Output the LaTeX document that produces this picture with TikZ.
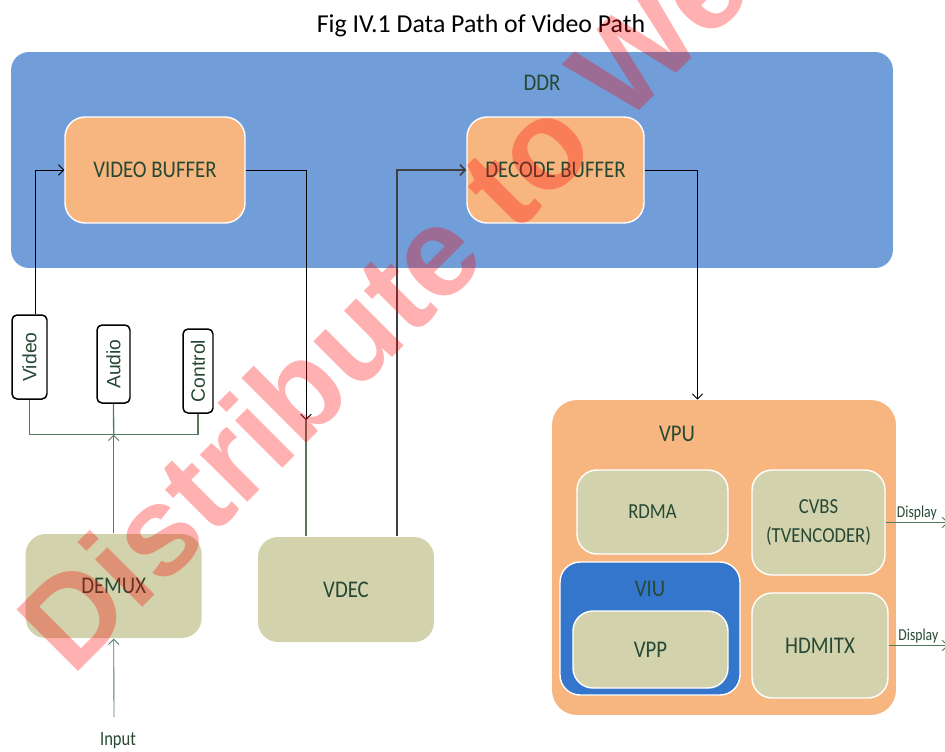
\documentclass[tikz,border=0pt]{standalone}
\usepackage{graphicx}
\usepackage{fontspec}
\setmainfont{Carlito}
\newfontfamily\boxfont{Carlito}[FakeStretch=0.87]
\newfontfamily\smallfont{Carlito}[FakeStretch=0.82]
\newfontfamily\tagfont{Liberation Sans}
\usetikzlibrary{arrows.meta}

\definecolor{ddrblue}{RGB}{113,157,216}
\definecolor{bufor}{RGB}{247,182,127}
\definecolor{unitolive}{RGB}{210,211,172}
\definecolor{viublue}{RGB}{52,118,203}
\definecolor{txtgreen}{RGB}{38,72,52}
\definecolor{busgreen}{RGB}{84,122,94}

\begin{document}
\begin{tikzpicture}[x=0.02cm, y=-0.02cm,
   area/.style = {shape = rectangle, rounded corners = 0.36cm, inner sep = 0pt},
   buffer/.style = {shape = rectangle, rounded corners = 0.4cm, draw = white, line width = 0.8pt,
                    fill = bufor, text = txtgreen, font = \boxfont\fontsize{13.6}{16}\selectfont},
   unit/.style = {buffer, fill = unitolive},
   tag/.style = {shape = rectangle, rounded corners = 0.1cm, draw = black, line width = 0.85pt,
                 fill = white, inner sep = 0pt, text = txtgreen, font = \tagfont\fontsize{11}{13}\selectfont},
   title/.style = {text = txtgreen, font = \boxfont\fontsize{13.6}{16}\selectfont},
   link/.style = {line width = 0.5pt, -{Straight Barb[length=3pt, width=6pt]}},
   bus/.style = {line width = 0.75pt, draw = busgreen}]

   \useasboundingbox (0,0) rectangle (945,751);
   \clip (0,0) rectangle (945,751);

   \node(fig) at (481,32) [anchor = base, font = \fontsize{14.7}{17}\selectfont] {Fig IV.1 Data Path of Video Path};

   \node(ddr) at (452,160) [area, fill = ddrblue, minimum width = 17.64cm, minimum height = 4.32cm] {};
   \node(ddrname) at (542,83) [title] {DDR};
   \node(vbuf) at (155,170) [buffer, minimum width = 3.6cm, minimum height = 2.12cm] {VIDEO BUFFER};
   \node(dbuf) at (555.5,170) [buffer, minimum width = 3.54cm, minimum height = 2.12cm] {DECODE BUFFER};

   \node(vtag) at (29.5,357) [tag, minimum width = 0.7cm, minimum height = 1.68cm] {\rotatebox{90}{Video}};
   \node(atag) at (113.5,364) [tag, minimum width = 0.66cm, minimum height = 1.56cm] {\rotatebox{90}{Audio}};
   \node(ctag) at (198,371) [tag, minimum width = 0.6cm, minimum height = 1.68cm] {\rotatebox{90}{Control}};

   \node(demux) at (113.7,586) [unit, draw = none, minimum width = 3.52cm, minimum height = 2.08cm] {DEMUX};
   \node(vdec) at (346,589.5) [unit, draw = none, minimum width = 3.52cm, minimum height = 2.1cm] {VDEC};
   \node(input) at (118,741) [text = txtgreen, font = \smallfont\fontsize{11.5}{13}\selectfont] {Input};

   \node(vpu) at (724,557.5) [area, rounded corners = 0.5cm, fill = bufor, minimum width = 6.88cm, minimum height = 6.3cm] {};
   \node(vpuname) at (677,434) [title] {VPU};
   \node(rdma) at (652.5,512) [unit, minimum width = 3.02cm, minimum height = 1.68cm, font = \boxfont\fontsize{12.2}{16}\selectfont] {RDMA};
   \node(cvbs) at (818.5,522.5) [unit, minimum width = 2.66cm, minimum height = 2.1cm, align = center, font = \boxfont\fontsize{12.2}{16}\selectfont] {CVBS\\(TVENCODER)};
   \node(viu) at (650,628.5) [buffer, fill = viublue, minimum width = 3.6cm, minimum height = 2.66cm] {};
   \node(viuname) at (650,589) [title] {VIU};
   \node(vpp) at (650.5,649.5) [unit, minimum width = 3.1cm, minimum height = 1.54cm] {VPP};
   \node(hdmi) at (820,645.5) [unit, minimum width = 2.72cm, minimum height = 2.1cm] {HDMITX};

   \coordinate(bus) at (113.7,434.7);
   \coordinate(vin) at (306,420);
   \coordinate(src) at (114,717);
   \coordinate(out1) at (948,522.5);
   \coordinate(out2) at (948,645.5);

   \draw [link] ([xshift = 0.12cm]vtag.north) |- (vbuf.west);
   \draw [link] (vbuf.east) -| (vin);
   \draw [bus, line width = 0.6pt] (vin) -- (vin |- vdec.north);
   \draw [link, draw = black!75, line width = 0.9pt] ([xshift = 1.02cm]vdec.north) |- (dbuf.west);
   \draw [link] (dbuf.east) -| ([xshift = -0.53cm]vpu.north);

   \draw [bus] (vtag.south) |- (bus) -| (ctag.south);
   \draw [bus] (atag.south) -- (bus);
   \draw [bus, link] (demux.north) -- (bus);
   \draw [bus, link] (src) -- (demux.south);

   \draw [bus, link] (cvbs.east) -- node[above, inner sep = 1pt, text = txtgreen, font = \smallfont\fontsize{9.5}{11}\selectfont]{Display} (out1);
   \draw [bus, link] (hdmi.east) -- node[above, inner sep = 1pt, text = txtgreen, font = \smallfont\fontsize{9.5}{11}\selectfont]{Display} (out2);

   \node(mark) at (72,678) [anchor = base west, rotate = 45, inner sep = 0pt, text = red, text opacity = 0.31,
                            font = \tagfont\bfseries\fontsize{72}{80}\selectfont] {Distribute to We};
\end{tikzpicture}
\end{document}
